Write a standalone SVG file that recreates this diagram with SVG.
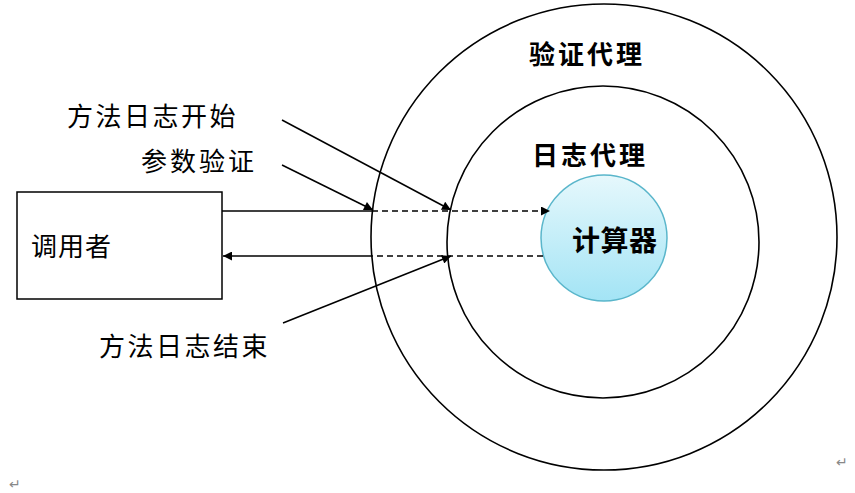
<svg xmlns="http://www.w3.org/2000/svg" width="855" height="493" viewBox="0 0 855 493">
<defs>
<style>
.ring{fill:none;stroke:#000;stroke-width:1.6}
.ln{stroke:#000;stroke-width:1.5;fill:none}
.dash{stroke:#000;stroke-width:1.5;fill:none;stroke-dasharray:6,4}
.lbl{font-family:"Liberation Sans","Noto Sans CJK SC",sans-serif;font-size:26px;fill:#000;letter-spacing:2.5px}
.bold{font-weight:bold;font-size:26px;letter-spacing:3px}
.ret{font-family:"DejaVu Sans",sans-serif;font-size:14px;fill:#888}
</style>
<marker id="ah" viewBox="0 0 10 10" refX="10" refY="5" markerWidth="11" markerHeight="9" markerUnits="userSpaceOnUse" orient="auto">
<path d="M0,0 L10,5 L0,10 z" fill="#000"/>
</marker>
<linearGradient id="calc" x1="0" y1="0" x2="0" y2="1">
<stop offset="0" stop-color="#e6f8fc"/>
<stop offset="1" stop-color="#a3e4f5"/>
</linearGradient>
</defs>
<g id="verify-proxy">
<circle class="ring" cx="604" cy="237" r="233"/>
<text class="lbl bold" x="529" y="64">验证代理</text>
</g>
<g id="log-proxy">
<circle class="ring" cx="603" cy="242" r="156"/>
<text class="lbl bold" x="532" y="165">日志代理</text>
</g>
<g id="calculator">
<circle cx="604" cy="238" r="63" fill="url(#calc)" stroke="#5ab6cb" stroke-width="1.5"/>
<text class="lbl bold" x="572" y="251" style="font-size:28px;letter-spacing:0.5px">计算器</text>
</g>
<g id="caller">
<rect x="17" y="192" width="205" height="107" fill="#fff" stroke="#000" stroke-width="1.5"/>
<text class="lbl" x="31" y="256" style="letter-spacing:1px">调用者</text>
</g>
<g id="labels">
<text class="lbl" x="67" y="126">方法日志开始</text>
<text class="lbl" x="141" y="171" style="letter-spacing:3px">参数验证</text>
<text class="lbl" x="99" y="356">方法日志结束</text>
</g>
<g id="connectors">
<line class="ln" x1="222" y1="211" x2="372" y2="211"/>
<line class="dash" x1="372" y1="211" x2="550" y2="211" marker-end="url(#ah)"/>
<line class="dash" x1="543" y1="256" x2="372" y2="256"/>
<line class="ln" x1="372" y1="256" x2="223" y2="256" marker-end="url(#ah)"/>
<line class="ln" x1="282" y1="120" x2="451" y2="210" marker-end="url(#ah)"/>
<line class="ln" x1="282" y1="165" x2="373" y2="210" marker-end="url(#ah)"/>
<line class="ln" x1="283" y1="323" x2="451" y2="256" marker-end="url(#ah)"/>
</g>
<text class="ret" x="9" y="489">↵</text>
<text class="ret" x="836" y="467">↵</text>
</svg>
